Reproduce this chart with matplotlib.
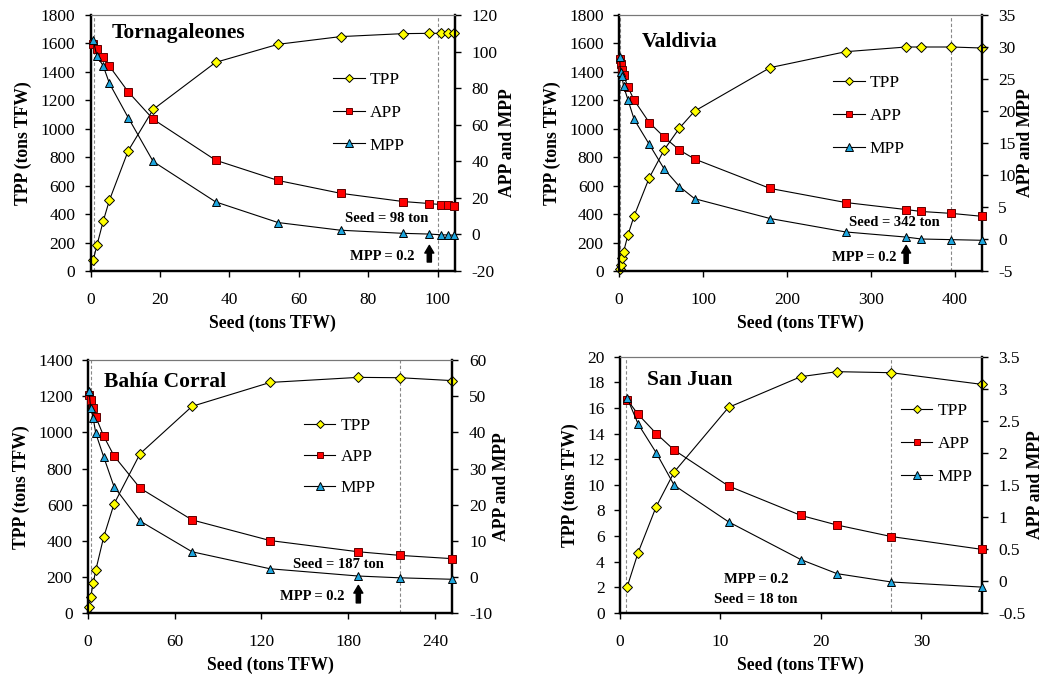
import matplotlib
matplotlib.use("Agg")
import matplotlib.pyplot as plt
from matplotlib.ticker import FuncFormatter

plt.rcParams['font.family'] = ['Liberation Serif', 'DejaVu Serif']
plt.rcParams['axes.unicode_minus'] = False

# Tornagaleones
seed_t = [0.72, 1.8, 3.6, 5.4, 10.8, 18, 36, 54, 72, 90, 97.6, 101, 103, 104.8]
tpp_t = [75, 181, 350, 498, 845, 1136, 1467, 1594, 1648, 1669, 1671, 1671, 1671, 1671]
app_t = [103.9, 101.2, 96.8, 92, 78, 63, 40.6, 29.5, 22.5, 18, 16.9, 16.3, 16.1, 15.6]
mpp_t = [106.3, 97.5, 92.2, 82.6, 63.9, 39.9, 17.8, 6.5, 2.3, 0.6, 0.2, -0.2, -0.3, -0.4]

# Valdivia
seed_v = [0.6, 1.8, 3.6, 5.4, 10.8, 18, 36, 54, 72, 90, 180, 270, 342, 360, 396, 432]
tpp_v = [16, 45, 92, 134, 256, 387, 655, 854, 1005, 1124, 1430, 1542, 1575, 1575, 1575, 1568]
app_v = [28.2, 27.3, 26.4, 25.6, 23.7, 21.7, 18.2, 15.9, 13.9, 12.5, 7.9, 5.7, 4.6, 4.3, 4.0, 3.55]
mpp_v = [28.5, 26.1, 25.4, 23.9, 21.7, 18.7, 14.8, 10.9, 8.2, 6.3, 3.2, 1.1, 0.3, 0.0, -0.1, -0.2]

# Bahia Corral
seed_b = [0.72, 1.8, 3.6, 5.4, 10.8, 18, 36, 72, 126, 187, 216, 252]
tpp_b = [37, 88, 166, 239, 420, 604, 882, 1144, 1276, 1304, 1302, 1286]
app_b = [50.3, 48.9, 46.6, 44.3, 39, 33.5, 24.6, 15.8, 10.1, 7.0, 6.0, 5.1]
mpp_b = [51.5, 46.8, 43.9, 39.7, 33.3, 25, 15.5, 7.0, 2.3, 0.3, -0.2, -0.6]

# San Juan
seed_s = [0.7, 1.8, 3.6, 5.4, 10.8, 18, 21.6, 27, 36]
tpp_s = [1.98, 4.69, 8.28, 11.0, 16.04, 18.44, 18.83, 18.75, 17.84]
app_s = [2.83, 2.60, 2.30, 2.04, 1.48, 1.02, 0.87, 0.69, 0.49]
mpp_s = [2.86, 2.45, 2.0, 1.49, 0.92, 0.33, 0.11, -0.02, -0.10]

W, H = 1052, 679
fig = plt.figure(figsize=(W / 100, H / 100), dpi=100)


def box(left, top, right, bottom):
    return [left / W, (H - bottom) / H, (right - left) / W, (bottom - top) / H]


def steps(lo, hi, step):
    n = int(round((hi - lo) / step))
    return [lo + i * step for i in range(n + 1)]


def panel(rect, seed, tpp, app, mpp, name, xlim, xticks, ylim, ystep, y2lim, y2step,
          vlines, title_pos, legend_pos, spacing=0.95):
    ax = fig.add_axes(rect)
    ax2 = ax.twinx()

    for x in vlines:
        ax.axvline(x, color='#888888', lw=0.8, ls=(0, (3, 2)), zorder=1)

    l1, = ax.plot(seed, tpp, color='black', lw=0.8, marker='D', ms=4.8,
                  mfc='#FFFF00', mec='black', mew=0.7, clip_on=False, zorder=3)
    l2, = ax2.plot(seed, app, color='black', lw=0.8, marker='s', ms=5.8,
                   mfc='#FF0000', mec='#600000', mew=0.7, clip_on=False, zorder=3)
    l3, = ax2.plot(seed, mpp, color='black', lw=0.8, marker='^', ms=6.4,
                   mfc='#1EA6DE', mec='black', mew=0.7, clip_on=False, zorder=3)

    ax.set_xlim(*xlim)
    ax.set_xticks(xticks)
    ax.set_ylim(*ylim)
    ax.set_yticks(steps(ylim[0], ylim[1], ystep))
    ax2.set_ylim(*y2lim)
    ax2.set_yticks(steps(y2lim[0], y2lim[1], y2step))
    ax2.yaxis.set_major_formatter(FuncFormatter(lambda v, p: '%g' % round(v, 3)))

    for a in (ax, ax2):
        for s in ('left', 'right', 'bottom'):
            a.spines[s].set_linewidth(1.6)
            a.spines[s].set_color('black')
        a.spines['top'].set_linewidth(0.8)
        a.spines['top'].set_color('#777777')
        a.tick_params(direction='out', length=4, width=1, labelsize=12.5)
    ax.tick_params(axis='x', pad=11)
    ax.tick_params(axis='y', pad=7)
    ax2.tick_params(axis='y', pad=8)

    ax.set_xlabel('Seed (tons TFW)', fontsize=12.7, fontweight='bold', labelpad=5)
    ax.set_ylabel('TPP (tons TFW)', fontsize=12.7, fontweight='bold', labelpad=6)
    ax2.set_ylabel('APP and MPP', fontsize=12.7, fontweight='bold', labelpad=1)

    ax.text(title_pos[0], title_pos[1], name, transform=ax.transAxes, fontsize=15.5,
            fontweight='bold', ha='left', va='center')

    ax2.legend([l1, l2, l3], ['TPP', 'APP', 'MPP'], loc='upper left',
               bbox_to_anchor=legend_pos, frameon=False, fontsize=12.5,
               handlelength=1.8, handletextpad=0.3, labelspacing=spacing,
               borderpad=0, borderaxespad=0, markerscale=0.85)
    return ax


def arrow(ax, x, y0, y1):
    ax.annotate('', xy=(x, y1), xytext=(x, y0),
                xycoords=('data', 'axes fraction'), textcoords=('data', 'axes fraction'),
                arrowprops=dict(arrowstyle='simple,head_length=0.55,head_width=0.65,tail_width=0.3',
                                color='black', shrinkA=0, shrinkB=0))


ax = panel(box(90.7, 15, 455, 271), seed_t, tpp_t, app_t, mpp_t, 'Tornagaleones',
           (0, 105), [0, 20, 40, 60, 80, 100], (0, 1800), 200, (-20, 120), 20,
           [0.9, 100], (0.058, 0.928), (0.666, 0.777))
ax.text(0.813, 0.207, 'Seed = 98 ton', transform=ax.transAxes, fontsize=10.5,
        fontweight='bold', ha='center', va='center')
ax.text(0.89, 0.055, 'MPP = 0.2', transform=ax.transAxes, fontsize=10.5,
        fontweight='bold', ha='right', va='center')
arrow(ax, 97.6, 0.035, 0.10)

ax = panel(box(619, 15, 981.7, 271), seed_v, tpp_v, app_v, mpp_v, 'Valdivia',
           (0, 432), [0, 100, 200, 300, 400], (0, 1800), 200, (-5, 35), 5,
           [1.2, 396], (0.0625, 0.896), (0.591, 0.765))
ax.text(0.758, 0.189, 'Seed = 342 ton', transform=ax.transAxes, fontsize=10.5,
        fontweight='bold', ha='center', va='center')
ax.text(0.766, 0.053, 'MPP = 0.2', transform=ax.transAxes, fontsize=10.5,
        fontweight='bold', ha='right', va='center')
arrow(ax, 342, 0.03, 0.10)

ax = panel(box(88, 360, 452.3, 613.3), seed_b, tpp_b, app_b, mpp_b, 'Bahía Corral',
           (0, 252), [0, 60, 120, 180, 240], (0, 1400), 200, (-10, 60), 10,
           [1.8, 216], (0.044, 0.914), (0.593, 0.77), spacing=0.85)
ax.text(0.688, 0.193, 'Seed = 187 ton', transform=ax.transAxes, fontsize=10.5,
        fontweight='bold', ha='center', va='center')
ax.text(0.703, 0.066, 'MPP = 0.2', transform=ax.transAxes, fontsize=10.5,
        fontweight='bold', ha='right', va='center')
arrow(ax, 187, 0.041, 0.11)

ax = panel(box(620, 356.7, 981.7, 612.7), seed_s, tpp_s, app_s, mpp_s, 'San Juan',
           (0, 36), [0, 10, 20, 30], (0, 20), 2, (-0.5, 3.5), 0.5,
           [0.6, 27], (0.074, 0.909), (0.777, 0.818))
ax.text(0.378, 0.128, 'MPP = 0.2', transform=ax.transAxes, fontsize=10.5,
        fontweight='bold', ha='center', va='center')
ax.text(0.376, 0.052, 'Seed = 18 ton', transform=ax.transAxes, fontsize=10.5,
        fontweight='bold', ha='center', va='center')

fig.savefig('out.png', dpi=100)
